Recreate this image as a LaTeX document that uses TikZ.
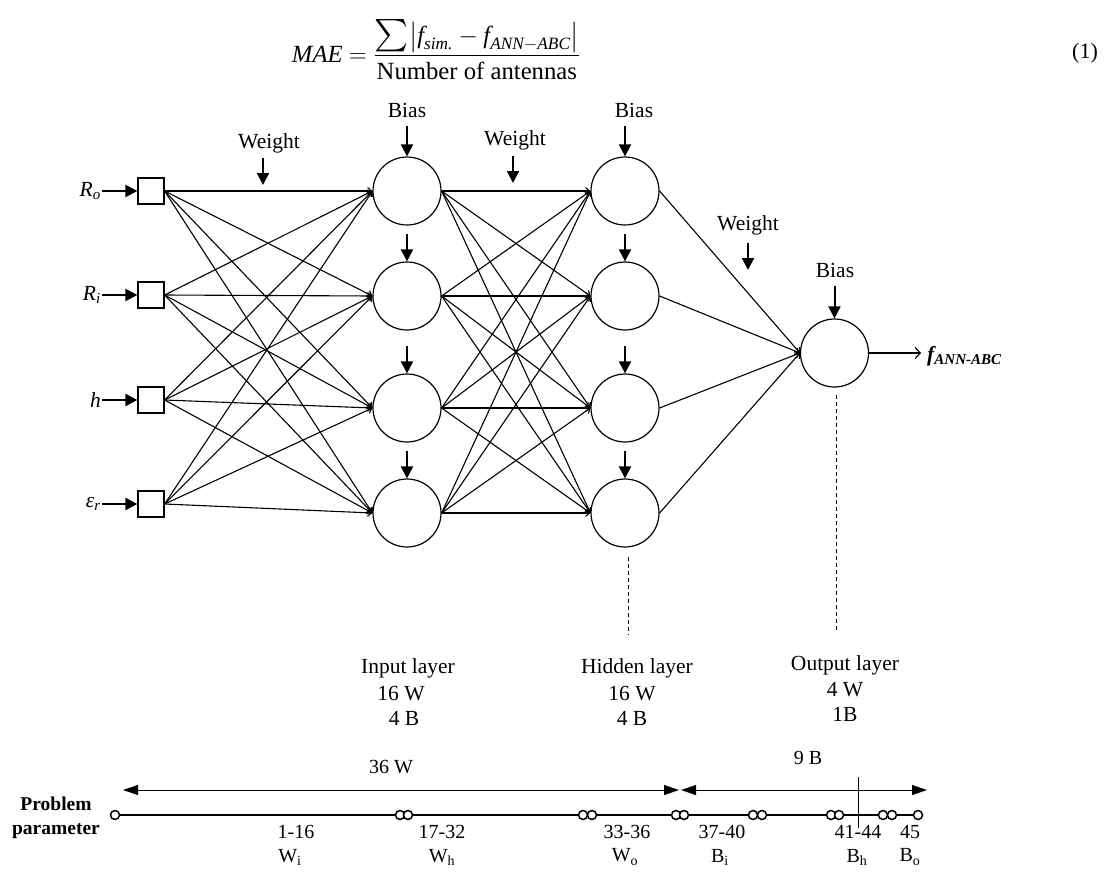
\documentclass[tikz,border=0pt]{standalone}
\usepackage{fontspec}
\usepackage{amsmath}
\setmainfont{Liberation Serif}
\usetikzlibrary{arrows.meta,calc}
\begin{document}
\begin{tikzpicture}[x=1pt,y=-1pt,
  lbl/.style={font=\fontsize{21.5}{25}\selectfont, inner sep=0pt},
  blbl/.style={font=\fontsize{20}{24}\selectfont, inner sep=0pt},
  inbox/.style={draw, line width=1.2pt, minimum size=26pt, inner sep=0pt},
  neuron/.style={draw, circle, line width=1.2pt, minimum size=68pt, inner sep=0pt},
  conn/.style={line width=1.1pt, -{Straight Barb[length=4pt,width=7pt]}},
  thickarrow/.style={line width=2pt, -{Triangle[length=12pt,width=12pt]}},
  outarrow/.style={line width=1.2pt, -{Straight Barb[length=5pt,width=11pt]}},
  dimarrow/.style={line width=1pt, {Triangle[length=15pt,width=10pt]}-{Triangle[length=15pt,width=10pt]}},
  pdot/.style={draw, circle, fill=white, line width=1.5pt, minimum size=9pt, inner sep=0pt},
  dashline/.style={line width=0.9pt, dash pattern=on 4pt off 3pt}
]
\useasboundingbox (0,0) rectangle (1107,873);

% equation
\node[font=\fontsize{24.7}{30}\selectfont, anchor=base, inner sep=0pt] (eq) at (436,62)
  {\textit{MAE} $=\dfrac{\mathop{\scalebox{1.3}{$\textstyle\sum$}}\bigl|\textit{f}_{\textit{sim.}}-\textit{f}_{\textit{ANN}-\textit{ABC}}\bigr|}{\text{Number of antennas}}$};
\node[font=\fontsize{22}{26}\selectfont, anchor=base, inner sep=0pt] (eqn) at (1085,58) {(1)};

% input boxes
\node[inbox] (in1) at (151,191) {};
\node[inbox] (in2) at (151,295) {};
\node[inbox] (in3) at (151,400) {};
\node[inbox] (in4) at (151,504) {};

% input labels
\node[lbl, anchor=east] (l1) at (101,191) {\textit{R}\textsubscript{\textit{o}}};
\node[lbl, anchor=east] (l2) at (101,295) {\textit{R}\textsubscript{\textit{i}}};
\node[lbl, anchor=east] (l3) at (101,400) {\textit{h}};
\node[lbl, anchor=east] (l4) at (101,504) {\textit{ε}\textsubscript{\textit{r}}};
\foreach \i in {1,...,4} \draw[thickarrow, shorten <=1pt] (l\i.east) -- (in\i.west);

% neurons
\node[neuron] (a1) at (407,191) {};
\node[neuron] (a2) at (407,296) {};
\node[neuron] (a3) at (407,408) {};
\node[neuron] (a4) at (407,513) {};
\node[neuron] (b1) at (625,191) {};
\node[neuron] (b2) at (625,296) {};
\node[neuron] (b3) at (625,408) {};
\node[neuron] (b4) at (625,513) {};
\node[neuron] (o) at (834.5,353) {};

% connections
\foreach \i in {1,...,4} \foreach \j in {1,...,4} \draw[conn] (in\i.east) -- (a\j.west);
\foreach \i in {1,...,4} \foreach \j in {1,...,4} \draw[conn] (a\i.east) -- (b\j.west);
\foreach \i in {1,...,4} \draw[conn] (b\i.east) -- (o.west);

% bias labels and arrows
\node[lbl] (biasA) at (407,110) {Bias};
\node[lbl] (biasB) at (634,110) {Bias};
\node[lbl] (biasO) at (835,270) {Bias};
\draw[thickarrow, shorten <=9pt] (biasA.south) -- (a1.north);
\draw[thickarrow, shorten <=9pt] (biasB.south -| b1.north) -- (b1.north);
\draw[thickarrow, shorten <=9pt] (biasO.south -| o.north) -- (o.north);
\foreach \n in {2,3,4} {
  \draw[thickarrow] ($(a\n.north)+(0,-27)$) -- (a\n.north);
  \draw[thickarrow] ($(b\n.north)+(0,-27)$) -- (b\n.north);
}

% weight labels and arrows
\node[lbl] (w1) at (269,143) {Weight};
\node[lbl] (w2) at (515,140) {Weight};
\node[lbl] (w3) at (748,225) {Weight};
\coordinate (w1s) at (263,158); \coordinate (w1e) at (263,185);
\coordinate (w2s) at (513,156); \coordinate (w2e) at (513,183);
\coordinate (w3s) at (748,243); \coordinate (w3e) at (748,270);
\draw[thickarrow] (w1s) -- (w1e);
\draw[thickarrow] (w2s) -- (w2e);
\draw[thickarrow] (w3s) -- (w3e);

% output
\node[anchor=west, inner sep=0pt, font=\fontsize{21.5}{25}\selectfont\bfseries\itshape] (flab) at (927,356) {f\textsubscript{ANN-ABC}};
\draw[outarrow, shorten >=6pt] (o.east) -- (o.east -| flab.west);

% dashed lines
\coordinate (hd1) at (628,557); \coordinate (hd2) at (628,635);
\coordinate (od1) at (836,395); \coordinate (od2) at (836,630);
\draw[dashline] (hd1) -- (hd2);
\draw[dashline] (od1) -- (od2);

% layer labels
\node[lbl] (il1) at (408,668) {Input layer};
\node[lbl] (il2) at (401,694) {16 W};
\node[lbl] (il3) at (404,718) {4 B};
\node[lbl] (hl1) at (637,668) {Hidden layer};
\node[lbl] (hl2) at (632,694) {16 W};
\node[lbl] (hl3) at (632,718) {4 B};
\node[lbl] (ol1) at (845,665) {Output layer};
\node[lbl] (ol2) at (845,690) {4 W};
\node[lbl] (ol3) at (845,714) {1B};

% bottom parameter line
\coordinate (d1s) at (123,790); \coordinate (d1e) at (679,790);
\coordinate (d2s) at (681,790); \coordinate (d2e) at (927,790);
\draw[dimarrow] (d1s) -- (d1e);
\draw[dimarrow] (d2s) -- (d2e);
\node[blbl] (t36) at (391,767) {36 W};
\node[blbl] (t9) at (808,758) {9 B};
\coordinate (vt) at (858,777); \coordinate (vb) at (858,828);
\draw[line width=0.9pt] (vt) -- (vb);

\node[blbl, font=\fontsize{19.5}{24}\selectfont\bfseries, align=center] (pp) at (56,818) {Problem\\parameter};

\node[pdot] (p0) at (115,815) {};
\node[pdot] (p1a) at (400,815) {};
\node[pdot] (p1b) at (408,815) {};
\node[pdot] (p2a) at (583,815) {};
\node[pdot] (p2b) at (592,815) {};
\node[pdot] (p3a) at (676,815) {};
\node[pdot] (p3b) at (684,815) {};
\node[pdot] (p4a) at (753,815) {};
\node[pdot] (p4b) at (762,815) {};
\node[pdot] (p5a) at (831,815) {};
\node[pdot] (p5b) at (839,815) {};
\node[pdot] (p6a) at (883,815) {};
\node[pdot] (p6b) at (892,815) {};
\node[pdot] (p7) at (918,815) {};
\begin{scope}[line width=2pt]
\draw (p0) -- (p1a);
\draw (p1b) -- (p2a);
\draw (p2b) -- (p3a);
\draw (p3b) -- (p4a);
\draw (p4b) -- (p5a);
\draw (p5b) -- (p6a);
\draw (p6b) -- (p7);
\end{scope}

\node[blbl] (n1) at (296,832) {1-16};
\node[blbl] (s1) at (290,857) {W\textsubscript{i}};
\node[blbl] (n2) at (442,832) {17-32};
\node[blbl] (s2) at (442,857) {W\textsubscript{h}};
\node[blbl] (n3) at (627,832) {33-36};
\node[blbl] (s3) at (625,857) {W\textsubscript{o}};
\node[blbl] (n4) at (722,832) {37-40};
\node[blbl] (s4) at (720,857) {B\textsubscript{i}};
\node[blbl] (n5) at (858,832) {41-44};
\node[blbl] (s5) at (857,857) {B\textsubscript{h}};
\node[blbl] (n6) at (910,832) {45};
\node[blbl] (s6) at (910,857) {B\textsubscript{o}};
\end{tikzpicture}
\end{document}
